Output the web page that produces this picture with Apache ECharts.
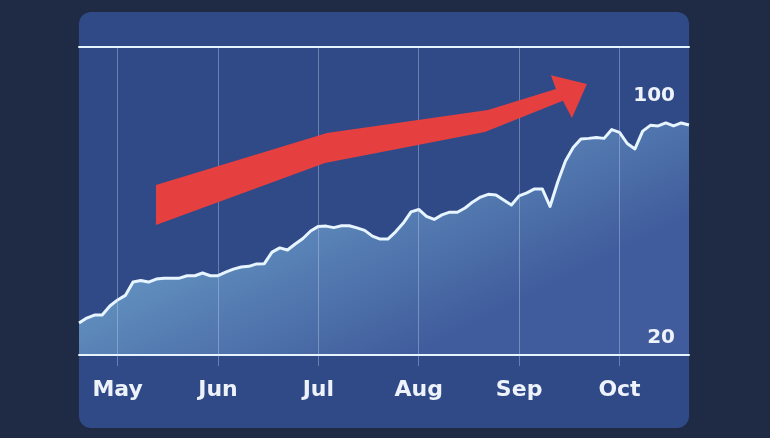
<!DOCTYPE html>
<html>
<head>
<meta charset="utf-8">
<script src="https://cdn.jsdelivr.net/npm/echarts@6/dist/echarts.min.js"></script>
<style>
  html, body { margin: 0; padding: 0; background: #1f2a45; }
  #panel { position: absolute; left: 79px; top: 12px; width: 610px; height: 416px; border-radius: 12px; background: #304a88; }
  #chart { position: absolute; left: 0; top: 0; width: 770px; height: 438px; }
</style>
</head>
<body>
<div id="panel"></div>
<div id="chart"></div>
<script>
// ---- data ----
const monthNames = ['May', 'Jun', 'Jul', 'Aug', 'Sep', 'Oct'];
const monthStart = [5, 18, 31, 44, 57, 70];   // category index of each month's first point
const yTickLabels = [20, 100];
const values = [
  25.0, 26.6, 27.6, 27.6, 30.6, 32.6, 34.1, 38.5, 39.0, 38.5,
  39.5, 39.8, 39.8, 39.8, 40.6, 40.6, 41.5, 40.6, 40.6, 41.8,
  42.8, 43.5, 43.7, 44.5, 44.6, 48.4, 49.8, 49.1, 51.1, 52.9,
  55.4, 56.9, 57.0, 56.5, 57.1, 57.1, 56.4, 55.6, 53.7, 52.7,
  52.7, 55.1, 58.0, 61.7, 62.5, 60.2, 59.2, 60.7, 61.6, 61.6,
  63.0, 65.0, 66.6, 67.5, 67.3, 65.6, 64.0, 67.0, 68.0, 69.3,
  69.3, 63.5, 71.6, 78.5, 83.0, 85.8, 86.0, 86.3, 86.0, 88.9,
  88.0, 84.3, 82.5, 88.4, 90.3, 90.1, 91.1, 90.1, 91.1, 90.4
];
// red trend arrow outline, in (point index, value) units
const arrowX = [9.97, 32.11, 52.96, 61.77, 61.12, 65.78, 63.84, 62.67, 52.57, 31.85, 9.97];
const arrowY = [70.6, 87.8, 95.4, 102.3, 106.9, 104.0, 92.7, 98.4, 88.1, 77.9, 57.4];

// category names built from the month arrays
const categories = values.map((v, i) => {
  let m = -1;
  for (let k = 0; k < monthStart.length; k++) if (i >= monthStart[k]) m = k;
  const name = m < 0 ? 'Apr' : monthNames[m];
  const day = m < 0 ? 30 - (monthStart[0] - 1 - i) : i - monthStart[m] + 1;
  return name + ' ' + day;
});
const isMonthStart = (idx) => monthStart.indexOf(idx) >= 0;

const chart = echarts.init(document.getElementById('chart'), null, { renderer: 'canvas' });
const gridColor = 'rgba(200,215,240,0.38)';
chart.setOption({
  backgroundColor: 'transparent',
  animation: false,
  grid: { left: 79, right: 81, top: 47, bottom: 83, containLabel: false },
  xAxis: [
    {
      type: 'category',
      data: categories,
      boundaryGap: false,
      axisLine: { show: true, lineStyle: { color: '#e6f4ff', width: 2 } },
      axisTick: { show: true, interval: isMonthStart, length: 11, lineStyle: { color: gridColor, width: 1 } },
      splitLine: { show: true, interval: isMonthStart, lineStyle: { color: gridColor, width: 1 } },
      axisLabel: {
        show: true, interval: isMonthStart, margin: 24,
        formatter: (v) => v.split(' ')[0],
        color: '#eef2fb', fontFamily: 'DejaVu Sans', fontWeight: 'bold', fontSize: 22
      },
      z: 3
    },
    {
      type: 'value', min: 0, max: values.length - 1, position: 'top',
      axisLine: { show: true, onZero: false, lineStyle: { color: '#e6f4ff', width: 2 } },
      axisTick: { show: false }, axisLabel: { show: false }, splitLine: { show: false }
    }
  ],
  yAxis: {
    type: 'value', min: 14.4, max: 116.2, position: 'right',
    axisLine: { show: false }, axisTick: { show: false }, splitLine: { show: false },
    axisLabel: {
      inside: true, margin: 14, customValues: yTickLabels,
      color: '#eef2fb', fontFamily: 'DejaVu Sans', fontWeight: 'bold', fontSize: 20
    },
    z: 5
  },
  series: [
    {
      type: 'line',
      xAxisIndex: 0,
      data: values,
      symbol: 'none',
      lineStyle: { color: '#e6f5ff', width: 3, join: 'round' },
      areaStyle: {
        opacity: 1,
        color: new echarts.graphic.LinearGradient(280, 120, 400, 360, [
          { offset: 0, color: '#6ea3cc' },
          { offset: 1, color: '#405c9c' }
        ], true)
      },
      z: 2
    },
    {
      type: 'custom',
      xAxisIndex: 1,
      data: [[0, 0]],
      renderItem: (params, api) => {
        const pts = arrowX.map((x, i) => api.coord([x, arrowY[i]]));
        return { type: 'polygon', shape: { points: pts }, style: { fill: '#e5403f' } };
      },
      silent: true,
      z: 4
    }
  ]
});
</script>
</body>
</html>
